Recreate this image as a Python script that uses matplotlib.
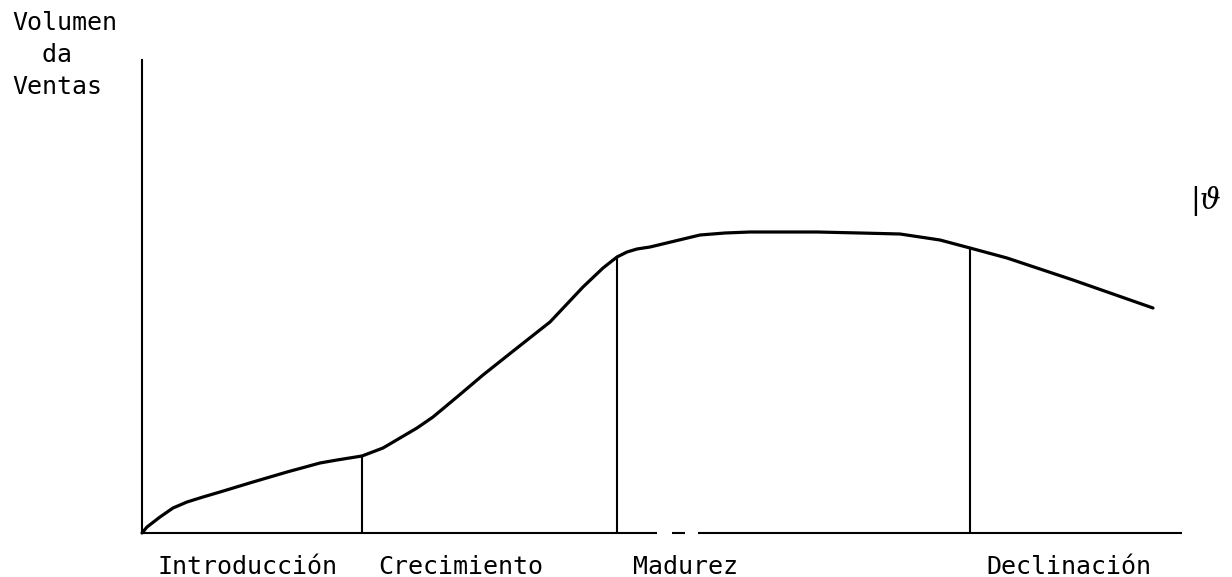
########################################################################################################################
# Ciclo de vida del producto - curva de volumen de ventas
########################################################################################################################
import numpy as np
import matplotlib
matplotlib.use('Agg')
from matplotlib import pyplot as plt
########################################################################################################################
# Datos (tiempo, volumen de ventas)
tiempo = [0, 5, 18, 31, 45, 61, 78, 111, 145, 178, 195, 220, 241, 258, 275, 291, 315, 341, 375,
          408, 441, 461, 475, 485, 495, 508, 558, 583, 608, 675, 718, 758, 798, 828, 865, 931, 1011]
ventas = [0, 6, 16, 25, 31, 36, 41, 51, 61, 70, 73, 77, 85, 95, 105, 116, 136, 158, 185,
          211, 246, 265, 276, 281, 284, 286, 298, 300, 301, 301, 300, 299, 293, 285, 275, 253, 225]

etapas = ['Introducción', 'Crecimiento', 'Madurez', 'Declinación']
inicio_etapas = [0, 220, 475, 828]

# tramos del eje x (el original tiene un corte)
eje_x_tramos = [(0, 515), (530, 543), (556, 1040)]
########################################################################################################################
plt.rcParams['font.family'] = ['DejaVu Sans Mono', 'DejaVu Sans']

fig = plt.figure(figsize=(12.32, 5.77), dpi=100)
ax = fig.add_axes([142 / 1232, 44 / 577, 1040 / 1232, 473 / 577])
ax.set_xlim(0, 1040)
ax.set_ylim(0, 473)
ax.set_xticks([])
ax.set_yticks([])
for lado in ['top', 'right', 'bottom']:
    ax.spines[lado].set_visible(False)
ax.spines['left'].set_linewidth(1.5)

# eje x con el corte
for a, b in eje_x_tramos:
    ax.plot([a, b], [0, 0], color='black', lw=1.5, solid_capstyle='butt', clip_on=False)

# curva
ax.plot(tiempo, ventas, color='black', lw=2.3, solid_capstyle='round',
        solid_joinstyle='round', clip_on=False)

# lineas verticales entre etapas
for x0 in inicio_etapas[1:]:
    ax.plot([x0, x0], [0, np.interp(x0, tiempo, ventas)], color='black', lw=1.5)

# nombres de etapas
for nombre, x0 in zip(etapas, inicio_etapas):
    ax.annotate(nombre, xy=(x0, 0), xytext=(16, -34), textcoords='offset pixels',
                ha='left', va='center', fontsize=18, annotation_clip=False)

# titulo del eje
fig.text(12 / 1232, 1 - 11 / 577, 'Volumen\n  da\nVentas', ha='left', va='top',
         fontsize=18, linespacing=1.42)

# marca manuscrita
fig.text(1190 / 1232, 1 - 201 / 577, '|ϑ', ha='left', va='center', fontsize=21,
         family='DejaVu Serif', style='italic')

plt.savefig('out.png', dpi=100)
########################################################################################################################
